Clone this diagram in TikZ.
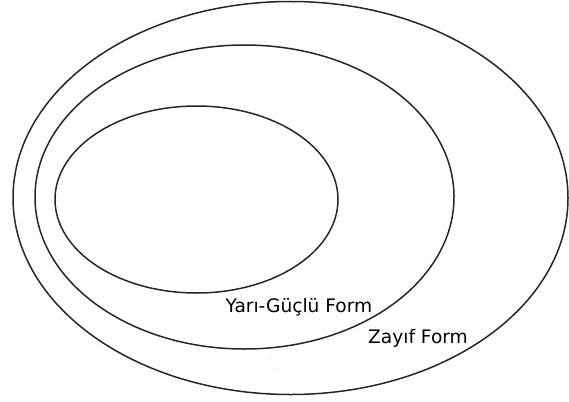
\documentclass[tikz,border=0pt]{standalone}
\usepackage{fontspec}
\setmainfont{DejaVu Sans}
\begin{document}
\begin{tikzpicture}[x=1pt,y=-1pt,
  ring/.style={draw=black!85,line width=1.5pt},
  lbl/.style={font=\fontsize{18.6}{20}\selectfont,inner sep=0pt,anchor=base west},
  speck/.style={fill=black!35}]
\useasboundingbox (0,0) rectangle (569,401);
\draw[ring] (290.5,198) ellipse [x radius=277.5, y radius=196.5];
\draw[ring] (244.5,197) ellipse [x radius=209.5, y radius=152];
\draw[ring] (196.5,199.5) ellipse [x radius=141.5, y radius=93.5];
\node[lbl] (semi) at (225.5,312) {Yarı-Güçlü Form};
\node[lbl] (weak) at (368,343) {Zayıf Form};
\fill[speck] (270,358) circle [radius=0.7];
\fill[speck] (274,370) circle [radius=0.5];
\end{tikzpicture}
\end{document}
